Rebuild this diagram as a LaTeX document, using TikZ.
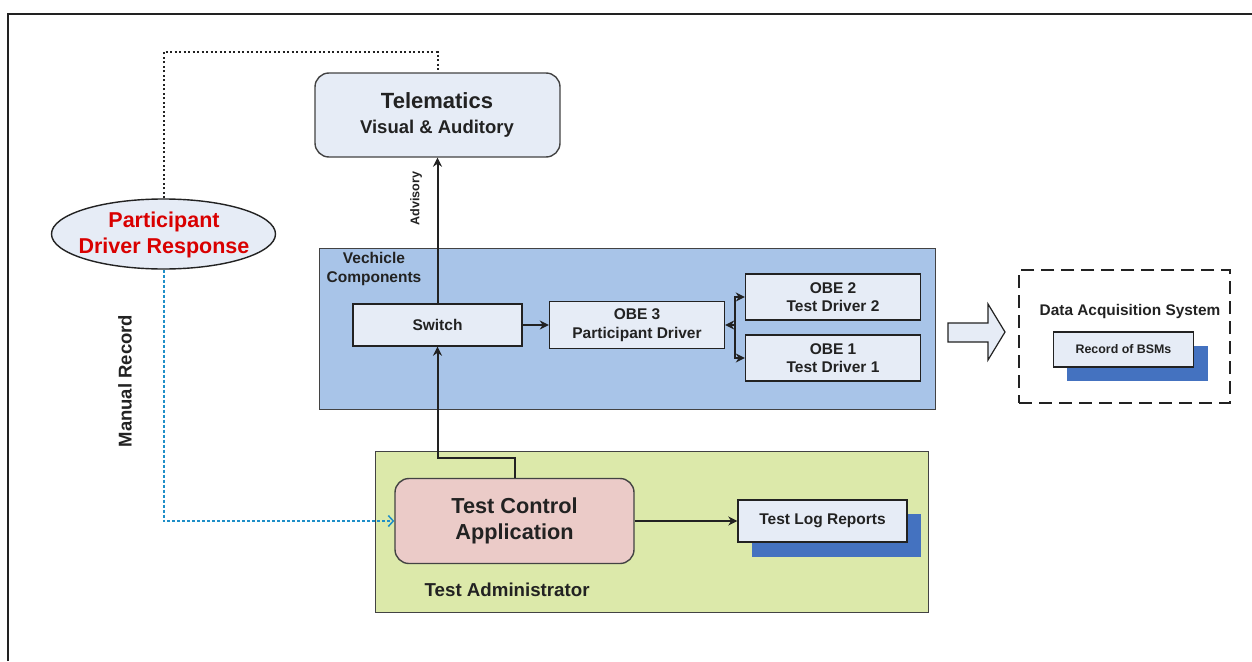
\documentclass[tikz,border=0pt]{standalone}
\usepackage{fontspec}
\setmainfont{Liberation Sans}
\usetikzlibrary{shapes.geometric,arrows.meta}
\definecolor{boxfill}{HTML}{E6ECF6}
\definecolor{vehblue}{HTML}{A8C4E8}
\definecolor{shadowblue}{HTML}{4472C0}
\definecolor{green1}{HTML}{DCE9AA}
\definecolor{pink1}{HTML}{EBCBC8}
\definecolor{dotblue}{HTML}{1F8FC8}
\definecolor{ink}{HTML}{222222}
\tikzset{
 x=1pt,y=-1pt,
 every node/.style={font=\bfseries,align=center,inner sep=0pt,text=ink},
 panel/.style={draw=ink!85,line width=1.2pt,anchor=north west},
 plainbox/.style={draw=ink,line width=1.4pt,fill=boxfill,font=\bfseries\fontsize{15.5}{18.5}\selectfont},
 roundbox/.style={draw=ink!85,line width=1.4pt,rounded corners=14pt},
 conn/.style={draw=ink,line width=2pt,-{Stealth[length=9pt,width=9pt]}},
}
\begin{document}
\begin{tikzpicture}
\useasboundingbox (0,0) rectangle (1252,661);
\fill[white] (0,0) rectangle (1252,661);
\draw[ink,line width=2pt] (8,661) -- (8,14) -- (1252,14);
% vehicle
\node[panel,fill=vehblue,minimum width=616pt,minimum height=161pt] (veh) at (318.5,248) {};
\node[font=\bfseries\fontsize{15.5}{19}\selectfont] (vehl) at (374,269) {Vechicle\\Components};
% telematics
\node[roundbox,fill=boxfill,minimum width=245pt,minimum height=84pt] (tel) at (437.5,115) {};
\node[font=\bfseries\fontsize{22}{26}\selectfont] (tel1) at (437,101) {Telematics};
\node[font=\bfseries\fontsize{18.5}{22}\selectfont] (tel2) at (437,129) {Visual \& Auditory};
% ellipse
\node[draw=ink,line width=1.4pt,fill=boxfill,ellipse,inner sep=0pt,minimum width=224pt,minimum height=70pt] (ell) at (163.5,234) {};
\node[font=\bfseries\fontsize{21.5}{26}\selectfont,text=red!85!black] (elltext) at (164,234.5) {Participant\\Driver Response};
% boxes
\node[plainbox,minimum width=169pt,minimum height=42pt] (sw) at (437.5,325) {Switch};
\node[plainbox,minimum width=175pt,minimum height=47pt] (obe3) at (637,325) {OBE 3\\Participant Driver};
\node[plainbox,minimum width=175pt,minimum height=46pt] (obe2) at (833,297) {OBE 2\\Test Driver 2};
\node[plainbox,minimum width=175pt,minimum height=46pt] (obe1) at (833,358) {OBE 1\\Test Driver 1};
% green
\node[panel,fill=green1,minimum width=553pt,minimum height=161pt] (adm) at (374.5,451) {};
\node[font=\bfseries\fontsize{18.7}{22}\selectfont,anchor=west] (adml) at (424.5,590) {Test Administrator};
\node[roundbox,fill=pink1,minimum width=239pt,minimum height=85pt,font=\bfseries\fontsize{21.7}{26}\selectfont] (tca) at (514.5,521) {Test Control\\Application};
\fill[shadowblue] (752,514) rectangle (921,557);
\node[plainbox,minimum width=169pt,minimum height=42pt] (log) at (822.5,521) {Test Log Reports};
% DAQ
\node[draw=ink,dash pattern=on 13pt off 7pt,line width=2pt,minimum width=211pt,minimum height=133pt,anchor=north west] (daq) at (1018,269) {};
\node[font=\bfseries\fontsize{15.4}{18}\selectfont] (daql) at (1130,312) {Data Acquisition System};
\fill[shadowblue] (1067,346) rectangle (1208,381);
\node[plainbox,minimum width=140pt,minimum height=35pt,font=\bfseries\fontsize{12.4}{15}\selectfont] (bsm) at (1123.5,349.5) {Record of BSMs};
% big arrow
\draw[ink,line width=1.2pt,fill=boxfill] (948,323) -- (988,323) -- (988,304) -- (1005,332) -- (988,360) -- (988,342) -- (948,342) -- cycle;
% labels
\node[rotate=90,font=\bfseries\fontsize{12.6}{15}\selectfont] (adv) at (416,198.5) {Advisory};
\node[rotate=90,font=\bfseries\fontsize{18.5}{22}\selectfont] (man) at (125,381) {Manual Record};
% connectors
\draw[conn] (sw.north) -- (tel.south);
\draw[conn] (sw.east) -- (obe3.west);
\draw[conn] (tca.north) -- (514.5,458) -- (437.5,458) -- (sw.south);
\draw[conn] (tca.east) -- (log.west);
\coordinate (j) at (735,325);
\draw[conn] (j) -- (obe3.east);
\draw[conn] (j) -- (735,297) -- (obe2.west);
\draw[conn] (j) -- (735,358) -- (obe1.west);
\draw[line width=2pt,dash pattern=on 2pt off 2.5pt,ink] (ell.north) -- (163.5,52) -- (437.5,52) -- (tel.north);
\draw[line width=2pt,dash pattern=on 3pt off 2pt,dotblue,-{Straight Barb[length=5pt,width=11pt,line width=1.5pt]}] (ell.south) -- (163.5,521) -- (tca.west);
\end{tikzpicture}
\end{document}
